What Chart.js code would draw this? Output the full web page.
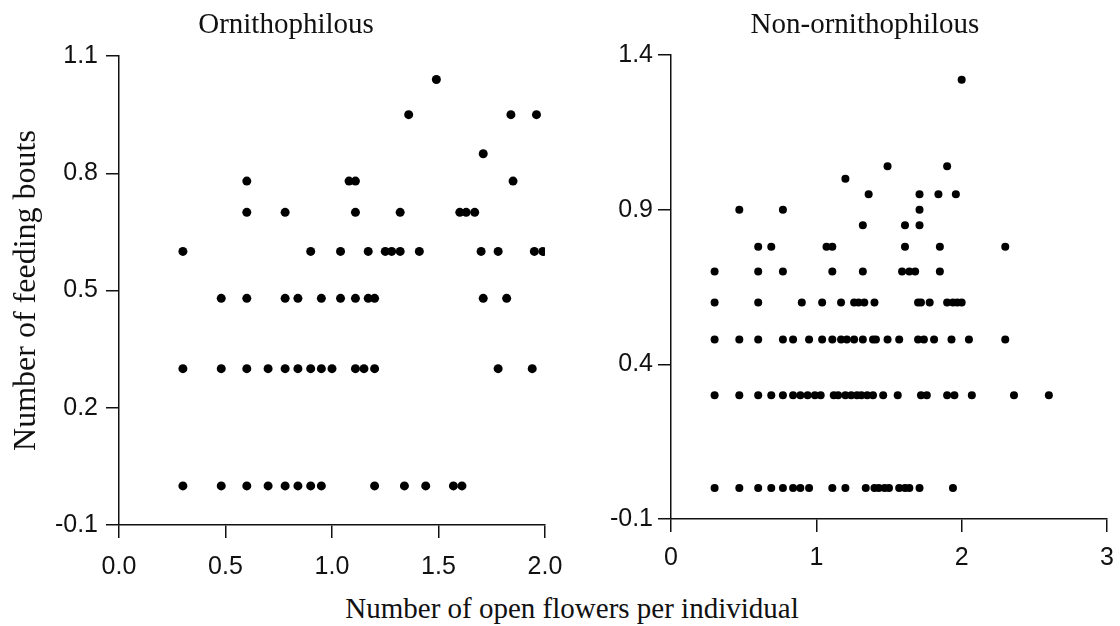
<!DOCTYPE html>
<html>
<head>
<meta charset="utf-8">
<script src="https://cdn.jsdelivr.net/npm/chart.js@4.4.1/dist/chart.umd.min.js"></script>
<style>
  body { margin: 0; background: #fff; }
  #wrap { position: relative; width: 1120px; height: 626px; overflow: hidden; }
  #left { position: absolute; left: 0; top: 0; }
  #right { position: absolute; left: 591px; top: 0; }
  .label {
    position: absolute; transform: translateX(-50%);
    font-family: "Liberation Serif", "Times New Roman", serif; font-size: 29px;
    line-height: 29px; white-space: nowrap; color: #111;
  }
</style>
</head>
<body>
<div id="wrap">
  <canvas id="left" width="577" height="590"></canvas>
  <canvas id="right" width="534" height="590"></canvas>
  <div class="label" style="left: 286px; top: 9px;">Ornithophilous</div>
  <div class="label" style="left: 865px; top: 9px;">Non-ornithophilous</div>
  <div class="label" style="left: 572px; top: 594px;">Number of open flowers per individual</div>
</div>
<script>
// log10 values, one list of x values per y level

const orniLevels = [1.04, 0.95, 0.85, 0.78, 0.70, 0.60, 0.48, 0.30, 0.00];
const orniX = [
    [1.49],
    [1.36, 1.84, 1.96],
    [1.71],
    [0.60, 1.08, 1.11, 1.85],
    [0.60, 0.78, 1.11, 1.32, 1.60, 1.63, 1.67],
    [0.30, 0.90, 1.04, 1.17, 1.25, 1.28, 1.32, 1.41, 1.70, 1.78, 1.95, 1.99],
    [0.48, 0.60, 0.78, 0.84, 0.95, 1.04, 1.11, 1.17, 1.20, 1.71, 1.82],
    [0.30, 0.48, 0.60, 0.70, 0.78, 0.84, 0.90, 0.95, 1.00, 1.11, 1.15, 1.20, 1.78, 1.94],
    [0.30, 0.48, 0.60, 0.70, 0.78, 0.84, 0.90, 0.95, 1.20, 1.34, 1.44, 1.57, 1.61]
];

const nonLevels = [1.32, 1.04, 1.00, 0.95, 0.90, 0.85, 0.78, 0.70, 0.60, 0.48, 0.30, 0.00];
const nonX = [
    [2.00],
    [1.49, 1.90],
    [1.20],
    [1.36, 1.71, 1.84, 1.96],
    [0.47, 0.77, 1.71],
    [1.32, 1.61, 1.71],
    [0.60, 0.69, 1.07, 1.11, 1.61, 1.85, 2.30],
    [0.30, 0.60, 0.77, 1.11, 1.32, 1.59, 1.64, 1.68, 1.85],
    [0.30, 0.60, 0.90, 1.04, 1.17, 1.26, 1.29, 1.33, 1.40, 1.70, 1.72, 1.78, 1.90, 1.94, 1.97, 2.00],
    [0.30, 0.47, 0.60, 0.77, 0.84, 0.95, 1.04, 1.11, 1.17, 1.21, 1.26, 1.32, 1.39, 1.41, 1.49, 1.57, 1.70, 1.74, 1.81, 1.93, 2.05, 2.30],
    [0.30, 0.47, 0.60, 0.69, 0.77, 0.84, 0.89, 0.94, 0.99, 1.03, 1.12, 1.15, 1.20, 1.24, 1.28, 1.31, 1.35, 1.39, 1.46, 1.56, 1.72, 1.76, 1.90, 1.95, 2.07, 2.36, 2.60],
    [0.30, 0.47, 0.60, 0.69, 0.77, 0.84, 0.89, 0.95, 1.11, 1.20, 1.34, 1.40, 1.43, 1.47, 1.50, 1.57, 1.61, 1.64, 1.71, 1.94]
];

const orniXTicks = [0.0, 0.5, 1.0, 1.5, 2.0];
const orniYTicks = [-0.1, 0.2, 0.5, 0.8, 1.1];
const nonXTicks = [0, 1, 2, 3];
const nonYTicks = [-0.1, 0.4, 0.9, 1.4];

function toPoints(levels, xs) {
    const pts = [];
    levels.forEach((y, i) => {
        xs[i].forEach(x => pts.push({ x: x, y: y }));
    });
    return pts;
}

const tickFont = { family: "'Liberation Sans', Arial, sans-serif", size: 25 };
const serif = "'Liberation Serif', 'Times New Roman', serif";

function makeChart(canvas, opts) {
    return new Chart(canvas, {
        type: "scatter",
        data: {
            datasets: [{
                data: opts.points,
                backgroundColor: "#000",
                borderWidth: 0,
                pointRadius: opts.radius,
                pointHoverRadius: opts.radius
            }]
        },
        options: {
            responsive: false,
            animation: false,
            layout: { padding: { top: opts.padTop, right: opts.padRight, bottom: 0, left: 0 } },
            plugins: {
                legend: { display: false },
                tooltip: { enabled: false }
            },
            scales: {
                x: {
                    type: "linear",
                    min: opts.xTicks[0],
                    max: opts.xTicks[opts.xTicks.length - 1],
                    afterBuildTicks: s => { s.ticks = opts.xTicks.map(v => ({ value: v })); },
                    afterFit: s => { s.height = opts.xHeight; },
                    grid: { drawOnChartArea: false, drawTicks: true, tickLength: 13, color: "#111", lineWidth: 1.5 },
                    border: { display: true, color: "#111", width: 1.5 },
                    ticks: {
                        color: "#111", font: tickFont, padding: opts.xPad, maxRotation: 0,
                        callback: v => v.toFixed(opts.xDigits)
                    }
                },
                y: {
                    type: "linear",
                    min: opts.yTicks[0],
                    max: opts.yTicks[opts.yTicks.length - 1],
                    afterBuildTicks: s => { s.ticks = opts.yTicks.map(v => ({ value: v })); },
                    afterFit: s => { s.width = opts.yWidth; },
                    grid: { drawOnChartArea: false, drawTicks: true, tickLength: 13, color: "#111", lineWidth: 1.5 },
                    border: { display: true, color: "#111", width: 1.5 },
                    ticks: {
                        color: "#111", font: tickFont, padding: opts.yPad,
                        callback: v => v.toFixed(1)
                    },
                    title: {
                        display: !!opts.yTitle,
                        text: opts.yTitle,
                        color: "#111",
                        font: { family: serif, size: 32 },
                        padding: { top: 7, bottom: 0 }
                    }
                }
            }
        }
    });
}

makeChart(document.getElementById("left"), {
    points: toPoints(orniLevels, orniX),
    radius: 4.5,
    xTicks: orniXTicks, yTicks: orniYTicks, xDigits: 1,
    padTop: 56, padRight: 32, xHeight: 65, yWidth: 119, yPad: 8, xPad: 14,
    yTitle: "Number of feeding bouts"
});

makeChart(document.getElementById("right"), {
    points: toPoints(nonLevels, nonX),
    radius: 4,
    xTicks: nonXTicks, yTicks: nonYTicks, xDigits: 0,
    padTop: 55, padRight: 18, xHeight: 71, yWidth: 80, yPad: 5, xPad: 11,
    yTitle: ""
});
</script>
</body>
</html>
